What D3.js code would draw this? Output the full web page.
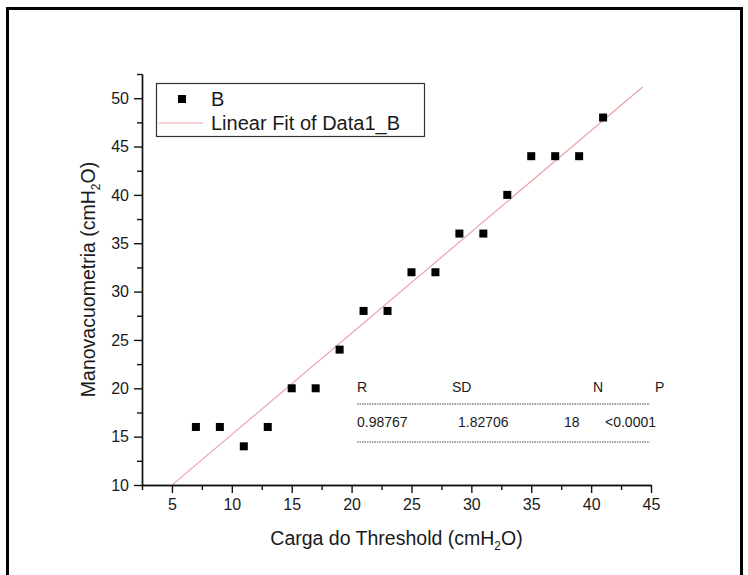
<!DOCTYPE html>
<html><head><meta charset="utf-8">
<script src="https://cdn.jsdelivr.net/npm/d3@7/dist/d3.min.js"></script>
<style>
body{margin:0;background:#fff}
text{font-family:Arial,"Liberation Sans",sans-serif;fill:#1a1a1a}
</style>
</head><body>
<svg id="c" width="748" height="575"></svg>
<script>
// ---- data ----
const xValues = [7, 9, 11, 13, 15, 17, 19, 21, 23, 25, 27, 29, 31, 33, 35, 37, 39, 41];
const yValues = [16, 16, 14, 16, 20, 20, 24, 28, 28, 32, 32, 36, 36, 40, 44, 44, 44, 48];
const xTicks = [5, 10, 15, 20, 25, 30, 35, 40, 45];
const yTicks = [10, 15, 20, 25, 30, 35, 40, 45, 50];
const xMinor = [2.5, 7.5, 12.5, 17.5, 22.5, 27.5, 32.5, 37.5, 42.5];
const yMinor = [12.5, 17.5, 22.5, 27.5, 32.5, 37.5, 42.5, 47.5, 52.5];
const fitXRange = [5.0, 44.3];
const statHeaders = ["R", "SD", "N", "P"];
const statValues = ["0.98767", "1.82706", "18", "<0.0001"];
const legendLabels = ["B", "Linear Fit of Data1_B"];

const svg = d3.select("#c");
// outer frame
svg.append("rect").attr("x", 7.5).attr("y", 8.5).attr("width", 734).attr("height", 580)
  .attr("fill", "none").attr("stroke", "#000").attr("stroke-width", 3);

const L = 142, R = 651, T = 74, B = 485;
const x = d3.scaleLinear().domain([2.5, 45]).range([L, R]);
const y = d3.scaleLinear().domain([10, 52.5]).range([B, T]);

// fit (least squares)
const n = xValues.length;
const mx = d3.mean(xValues), my = d3.mean(yValues);
let sxy = 0, sxx = 0;
for (let i = 0; i < n; i++) { sxy += (xValues[i]-mx)*(yValues[i]-my); sxx += (xValues[i]-mx)**2; }
const slope = sxy/sxx, icpt = my - slope*mx;
const fitPts = fitXRange.map(v => [v, icpt + slope*v]);

svg.append("path").datum(fitPts)
  .attr("d", d3.line().x(d => x(d[0])).y(d => y(d[1])))
  .attr("fill", "none").attr("stroke", "#eaa3a8").attr("stroke-width", 1.2);

// axes
function styleAxis(g){ g.selectAll("path,line").attr("stroke","#111").attr("stroke-width",1.4); }
const fs = "16px";
const gx = svg.append("g").attr("transform", `translate(0,${B})`)
  .call(d3.axisBottom(x).tickValues(xTicks).tickSize(8).tickSizeOuter(0).tickPadding(6));
gx.call(styleAxis); gx.selectAll("text").style("font-size", fs).attr("fill","#1a1a1a");
const gxm = svg.append("g").attr("transform", `translate(0,${B})`)
  .call(d3.axisBottom(x).tickValues(xMinor).tickSize(5).tickSizeOuter(0).tickFormat(""));
gxm.call(styleAxis);

const gy = svg.append("g").attr("transform", `translate(${L},0)`)
  .call(d3.axisLeft(y).tickValues(yTicks).tickSize(8).tickSizeOuter(0).tickPadding(5));
gy.call(styleAxis); gy.selectAll("text").style("font-size", fs).attr("fill","#1a1a1a");
const gym = svg.append("g").attr("transform", `translate(${L},0)`)
  .call(d3.axisLeft(y).tickValues(yMinor).tickSize(5).tickSizeOuter(0).tickFormat(""));
gym.call(styleAxis);

// points
const ms = 8;
svg.append("g").selectAll("rect").data(xValues.map((v,i)=>[v,yValues[i]])).join("rect")
  .attr("x", d => x(d[0]) - ms/2).attr("y", d => y(d[1]) - ms/2)
  .attr("width", ms).attr("height", ms).attr("fill", "#000");

// axis titles
const xt = svg.append("text").attr("x", (L+R)/2).attr("y", 545).attr("text-anchor","middle")
  .style("font-size","19.5px");
xt.append("tspan").text("Carga do Threshold (cmH");
xt.append("tspan").attr("dy", 5).style("font-size","12px").text("2");
xt.append("tspan").attr("dy", -5).text("O)");

const yt = svg.append("text").attr("transform", `translate(95,${(T+B)/2}) rotate(-90)`)
  .attr("text-anchor","middle").style("font-size","19.5px");
yt.append("tspan").text("Manovacuometria (cmH");
yt.append("tspan").attr("dy", 5).style("font-size","12px").text("2");
yt.append("tspan").attr("dy", -5).text("O)");

// legend
const lg = svg.append("g");
lg.append("rect").attr("x", 156.5).attr("y", 83.5).attr("width", 268).attr("height", 53)
  .attr("fill","#fff").attr("stroke","#333").attr("stroke-width",1.2);
lg.append("rect").attr("x", 182 - ms/2).attr("y", 99 - ms/2).attr("width", ms).attr("height", ms).attr("fill","#000");
lg.append("text").attr("x", 211).attr("y", 106).style("font-size","20px").text(legendLabels[0]);
lg.append("line").attr("x1",159).attr("x2",203).attr("y1",123).attr("y2",123)
  .attr("stroke","#eaa3a8").attr("stroke-width",1.2);
lg.append("text").attr("x", 211).attr("y", 130).style("font-size","20px").text(legendLabels[1]);

// stats table
const hx = [357, 452, 593, 655];
const vx = [357, 458, 564, 605];
const tb = svg.append("g").style("font-size","14px");
tb.selectAll(".h").data(statHeaders).join("text").attr("class","h")
  .attr("x",(d,i)=>hx[i]).attr("y",392).text(d=>d);
tb.selectAll(".v").data(statValues).join("text").attr("class","v")
  .attr("x",(d,i)=>vx[i]).attr("y",427).text(d=>d);
[404, 442].forEach(yy => tb.append("line").attr("x1",357).attr("x2",650).attr("y1",yy).attr("y2",yy)
  .attr("stroke","#444").attr("stroke-width",1).attr("stroke-dasharray","1.5,1"));
</script>
</body></html>
